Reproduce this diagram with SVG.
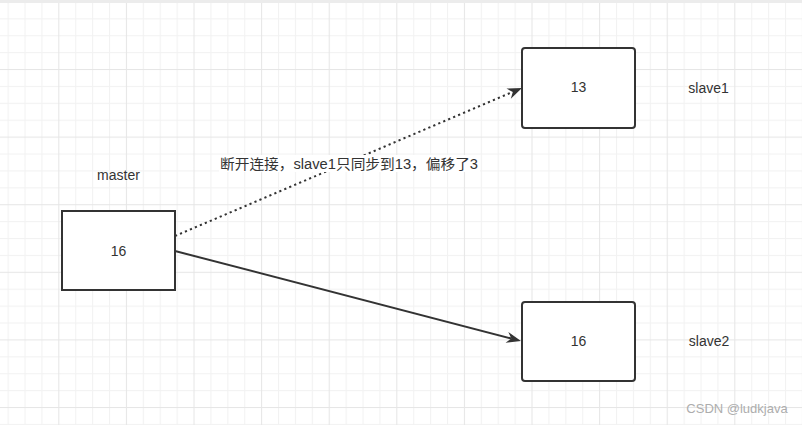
<svg xmlns="http://www.w3.org/2000/svg" width="802" height="425" viewBox="0 0 802 425">
<style>
  .node { fill: #ffffff; stroke: #333333; stroke-width: 2; }
  .lbl { font-family: "Liberation Sans", "Noto Sans CJK SC", sans-serif; font-size: 14px; fill: #333333; text-anchor: middle; }
  .edge { fill: none; stroke: #333333; stroke-width: 2; }
  .dot { stroke-dasharray: 2.2 3.2; }
</style>
<defs>
  <pattern id="grid" patternUnits="userSpaceOnUse" x="58.3" y="1.4" width="67.6" height="67.6">
    <rect x="0" y="0" width="67.6" height="67.6" fill="#ffffff"/>
    <g fill="#f2f2f2">
      <rect x="16.9" y="0" width="1" height="67.6"/>
      <rect x="33.8" y="0" width="1" height="67.6"/>
      <rect x="50.7" y="0" width="1" height="67.6"/>
      <rect x="0" y="16.9" width="67.6" height="1"/>
      <rect x="0" y="33.8" width="67.6" height="1"/>
      <rect x="0" y="50.7" width="67.6" height="1"/>
    </g>
    <g fill="#e6e6e6">
      <rect x="0" y="0" width="1" height="67.6"/>
      <rect x="0" y="0" width="67.6" height="1"/>
    </g>
  </pattern>
  <marker id="arrow" viewBox="-15 -6 16 12" refX="-10" refY="0" markerWidth="16" markerHeight="12" markerUnits="userSpaceOnUse" orient="auto">
    <path d="M0,0 L-14.5,-5.5 L-10,0 L-14.5,5.5 Z" fill="#333333"/>
  </marker>
</defs>
<rect x="0" y="0" width="802" height="425" fill="url(#grid)"/>
<rect x="0" y="0" width="802" height="3" fill="#ececec"/>

<g id="connectors">
  <line class="edge dot" x1="175" y1="236" x2="512.8" y2="91.9" marker-end="url(#arrow)"/>
  <line class="edge" x1="175" y1="251" x2="511.3" y2="338.5" marker-end="url(#arrow)"/>
  <g id="edge-label">
    <rect x="219" y="155" width="261" height="17" fill="#ffffff"/>
    <text class="lbl" x="349" y="169" textLength="258" lengthAdjust="spacingAndGlyphs">断开连接，slave1只同步到13，偏移了3</text>
  </g>
</g>

<g id="master">
  <rect class="node" x="62" y="211" width="113" height="79"/>
  <text class="lbl" x="118.5" y="256">16</text>
  <text class="lbl" x="118.5" y="180">master</text>
</g>

<g id="slave1">
  <rect class="node" x="522" y="48" width="113" height="80" rx="3" ry="3"/>
  <text class="lbl" x="578.5" y="92">13</text>
  <text class="lbl" x="708.5" y="93">slave1</text>
</g>

<g id="slave2">
  <rect class="node" x="522" y="302" width="113" height="79" rx="3" ry="3"/>
  <text class="lbl" x="578.5" y="346">16</text>
  <text class="lbl" x="709" y="346">slave2</text>
</g>

<text x="737" y="413" font-family="Liberation Sans, sans-serif" font-size="13" fill="#adadad" text-anchor="middle">CSDN @ludkjava</text>
</svg>
